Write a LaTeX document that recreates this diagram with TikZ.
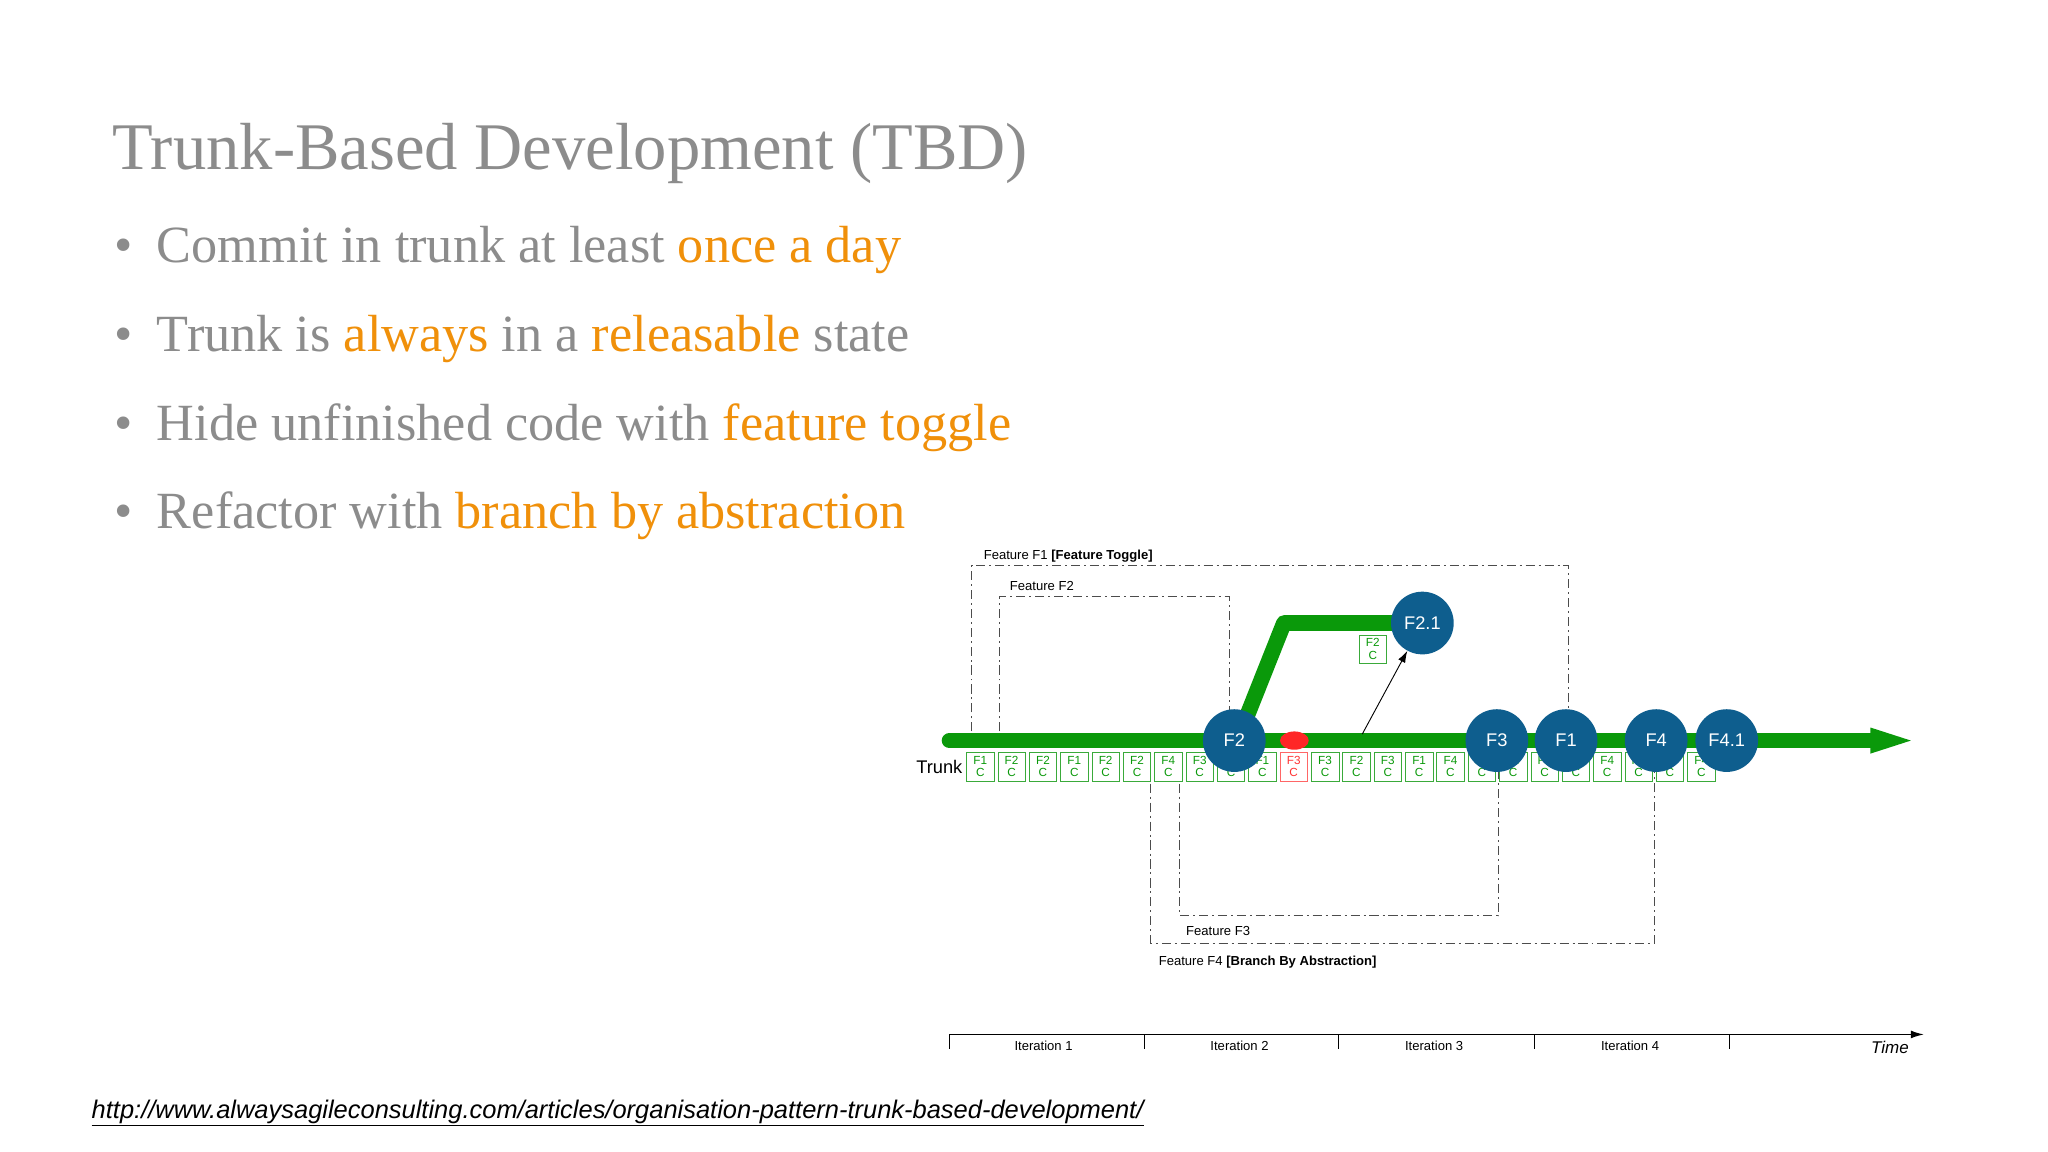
\documentclass[tikz,border=0pt]{standalone}
\usepackage{fontspec}
\setmainfont{Liberation Serif}
\setsansfont{Liberation Sans}
\usetikzlibrary{arrows.meta}
\definecolor{tgray}{HTML}{8C8C8C}
\definecolor{torange}{HTML}{F0900A}
\definecolor{cblue}{HTML}{0E5E8E}
\definecolor{tgreen}{HTML}{0A990A}
\definecolor{cgreen}{HTML}{3AAA3A}
\tikzset{
 circ/.style={circle,fill=cblue,text=white,minimum size=48pt,inner sep=0pt,font=\sffamily\fontsize{14}{14}\selectfont},
 cbox/.style={draw=cgreen,text=tgreen,minimum width=21pt,minimum height=22pt,inner sep=0pt,align=center,font=\sffamily\fontsize{9}{9.5}\selectfont},
 fbox/.style={draw=black!70,line width=0.8pt,dash pattern=on 7pt off 3pt on 1.5pt off 3pt},
 small/.style={font=\sffamily\fontsize{10}{10}\selectfont,anchor=base west,inner sep=0pt},
 bul/.style={anchor=base west,inner sep=0pt,text=tgray,font=\fontsize{40}{40}\selectfont},
}
\begin{document}
\begin{tikzpicture}[x=1pt,y=-1pt]
\useasboundingbox[fill=white] (0,0) rectangle (1568,882);
\node[anchor=base west,inner sep=0pt,text=tgray,font=\fontsize{51}{51}\selectfont] (title) at (86,130) {Trunk-Based Development (TBD)};
\node[bul] (b1) at (120,201) {Commit in trunk at least \textcolor{torange}{once a day}};
\node[bul] (b2) at (120,269) {Trunk is \textcolor{torange}{always} in a \textcolor{torange}{releasable} state};
\node[bul] (b3) at (120,337) {Hide unfinished code with \textcolor{torange}{feature toggle}};
\node[bul] (b4) at (120,405) {Refactor with \textcolor{torange}{branch by abstraction}};
\foreach \y/\n in {201/d1,269/d2,337/d3,405/d4}
  \node[anchor=base,inner sep=0pt,text=tgray,font=\fontsize{40}{40}\selectfont] (\n) at (95,\y) {•};
% feature boxes
\draw[fbox] (744,560) -- (744,433) -- (1201,433) -- (1201,545);
\draw[fbox] (765,560) -- (765,457) -- (941,457) -- (941,545);
\draw[fbox] (881,600) -- (881,722) -- (1267,722) -- (1267,590);
\draw[fbox] (903,600) -- (903,701) -- (1147,701) -- (1147,590);
\node[small] (l1) at (753,428) {Feature F1 \textbf{[Feature Toggle]}};
\node[small] (l2) at (773,452) {Feature F2};
\node[small] (l3) at (908,716) {Feature F3};
\node[small] (l4) at (887,739) {Feature F4 \textbf{[Branch By Abstraction]}};
% trunk
\draw[tgreen,line width=12pt,line cap=round] (727,567) -- (1435,567);
\fill[tgreen] (1432,557) -- (1463,567) -- (1432,577) -- cycle;
\node[anchor=east,inner sep=0pt,font=\sffamily\fontsize{14}{14}\selectfont] (trunk) at (737,587) {Trunk};
% commits
\foreach \i/\t in {1/F1,2/F2,3/F2,4/F1,5/F2,6/F2,7/F4,8/F3,9/F2,10/F1,12/F3,13/F2,14/F3,15/F1,16/F4,17/F3,18/F3,19/F1,20/F1,21/F4,22/F4,23/F4,24/F4}
  \node[cbox] (c\i) at ({750.5+24*(\i-1)},587) {\t\\C};
\node[cbox,draw=red!60,text=red!80] (c11) at (990.5,587) {F3\\C};
% branch
\draw[tgreen,line width=12pt,line join=round] (952,555) -- (983,477) -- (1075,477);
\fill[red!85] (991,567) ellipse (11pt and 7pt);
\node[cbox] (cb) at (1051,497) {F2\\C};
\node[circ] (f2) at (945,567) {F2};
\node[circ] (f21) at (1089,477) {F2.1};
\node[circ] (f3) at (1146,567) {F3};
\node[circ] (f1) at (1199,567) {F1};
\node[circ] (f4) at (1268,567) {F4};
\node[circ] (f41) at (1322,567) {F4.1};
\coordinate (as) at (1043,562);
\draw[-{Latex[length=9pt,width=6pt]},line width=0.7pt] (as) -- (f21);
% time axis
\coordinate (t0) at (727,792); \coordinate (t1) at (1473,792);
\draw[line width=1pt,-{Latex[length=10pt,width=6pt]}] (t0) -- (t1);
\foreach \x in {727,876,1025,1175,1324} \draw[line width=1pt] (\x,792) -- (\x,803);
\foreach \x/\k in {799/1,949/2,1098/3,1248/4}
  \node[font=\sffamily\fontsize{10}{10}\selectfont,inner sep=0pt] (it\k) at (\x,801) {Iteration \k};
\node[font=\sffamily\itshape\fontsize{13}{13}\selectfont,inner sep=0pt] (time) at (1447,802) {Time};
\node[anchor=base west,inner sep=0pt,font=\sffamily\itshape\fontsize{19.5}{20}\selectfont] (url) at (70,856) {\underline{http://www.alwaysagileconsulting.com/articles/organisation-pattern-trunk-based-development/}};
\end{tikzpicture}
\end{document}
